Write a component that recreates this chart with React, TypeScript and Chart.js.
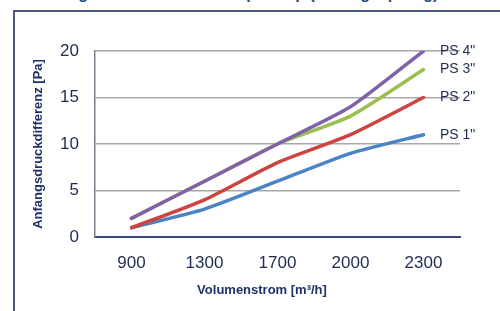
import React, { useEffect, useRef } from "react";
import { Chart, registerables } from "chart.js";

Chart.register(...registerables);

const categories = ["900", "1300", "1700", "2000", "2300"];
const ps1 = [1, 3, 6, 9, 11];
const ps2 = [1, 4, 8, 11, 15];
const ps3 = [2, 6, 10, 13, 18];
const ps4 = [2, 6, 10, 14, 20];
const seriesNames = ['PS 4"', 'PS 3"', 'PS 2"', 'PS 1"'];
const yTicks = [0, 5, 10, 15, 20];
const yTitle = "Anfangsdruckdifferenz [Pa]";
const xTitle = "Volumenstrom [m³/h]";
const chartTitle = "Anfangsdruckdifferenz Pumpe Stop (Anfangssprung)";

const FONT = "'Liberation Sans', Arial, sans-serif";
const NAVY = "#1e2b4f";

const endLabels = {
  id: "endLabels",
  afterDatasetsDraw(chart: any) {
    const ctx = chart.ctx;
    ctx.save();
    ctx.font = `14px ${FONT}`;
    ctx.fillStyle = NAVY;
    ctx.textAlign = "left";
    ctx.textBaseline = "middle";
    chart.data.datasets.forEach((ds: any, i: number) => {
      const meta = chart.getDatasetMeta(i);
      const last = meta.data[meta.data.length - 1];
      if (last) ctx.fillText(ds.label, last.x + 16.5, last.y);
    });
    // x axis title
    ctx.font = `bold 13px ${FONT}`;
    ctx.fillStyle = "#1f3166";
    ctx.textAlign = "center";
    ctx.fillText(xTitle, 262, 290);
    ctx.restore();
  },
};

export default function App() {
  const ref = useRef<HTMLCanvasElement | null>(null);
  useEffect(() => {
    if (!ref.current) return;
    const chart = new Chart(ref.current, {
      type: "line",
      data: {
        labels: categories,
        datasets: [
          { label: seriesNames[0], data: ps4, borderColor: "#8062a8" },
          { label: seriesNames[1], data: ps3, borderColor: "#9bbf50" },
          { label: seriesNames[2], data: ps2, borderColor: "#cc4340" },
          { label: seriesNames[3], data: ps1, borderColor: "#4a84c4" },
        ].map((d) => ({
          ...d,
          borderWidth: 3.5,
          pointRadius: 0,
          tension: 0.2,
          fill: false,
          borderCapStyle: "round" as const,
        })),
      },
      plugins: [endLabels],
      options: {
        animation: false,
        responsive: false,
        maintainAspectRatio: false,
        layout: { padding: { left: 0, right: 40, top: 51, bottom: 0 } },
        plugins: {
          legend: { display: false },
          tooltip: { enabled: false },
          title: { display: false },
        },
        scales: {
          x: {
            type: "category",
            offset: true,
            grid: { display: false, drawTicks: false },
            border: { display: true, color: "#3b4878", width: 2 },
            ticks: {
              padding: 16,
              color: NAVY,
              font: { family: FONT, size: 17 },
              maxRotation: 0,
            },
            afterFit: (s: any) => {
              s.height = 74;
            },
          },
          y: {
            min: 0,
            max: 20,
            afterBuildTicks: (s: any) => {
              s.ticks = yTicks.map((v) => ({ value: v }));
            },
            grid: {
              drawTicks: false,
              color: (c: any) => (c.tick && c.tick.value === 0 ? "rgba(0,0,0,0)" : "#a8a8a8"),
              lineWidth: 1.5,
            },
            border: { display: true, color: "#7c7f8e", width: 1.5 },
            ticks: {
              padding: 16,
              color: NAVY,
              font: { family: FONT, size: 17 },
            },
            title: {
              display: true,
              text: yTitle,
              color: "#1f3166",
              font: { family: FONT, size: 13, weight: "bold" },
              padding: { top: 31, bottom: 0 },
            },
            afterFit: (s: any) => {
              s.width = 95;
            },
          },
        },
      },
    });
    return () => chart.destroy();
  }, []);

  return (
    <div
      style={{
        position: "absolute",
        left: 0,
        top: 0,
        width: 500,
        height: 311,
        overflow: "hidden",
        background: "#ffffff",
      }}
    >
      <div
        style={{
          position: "absolute",
          left: 33,
          top: -15,
          fontFamily: FONT,
          fontWeight: "bold",
          fontSize: 16,
          color: "#1f4e8c",
          whiteSpace: "nowrap",
        }}
      >
        {chartTitle}
      </div>
      <div
        style={{
          position: "absolute",
          left: 13,
          top: 10,
          right: 0,
          bottom: 0,
          borderTop: "2px solid #4a5580",
          borderLeft: "2px solid #4a5580",
        }}
      />
      <canvas
        ref={ref}
        width={500}
        height={311}
        style={{ position: "absolute", left: 0, top: 0, width: 500, height: 311 }}
      />
    </div>
  );
}
